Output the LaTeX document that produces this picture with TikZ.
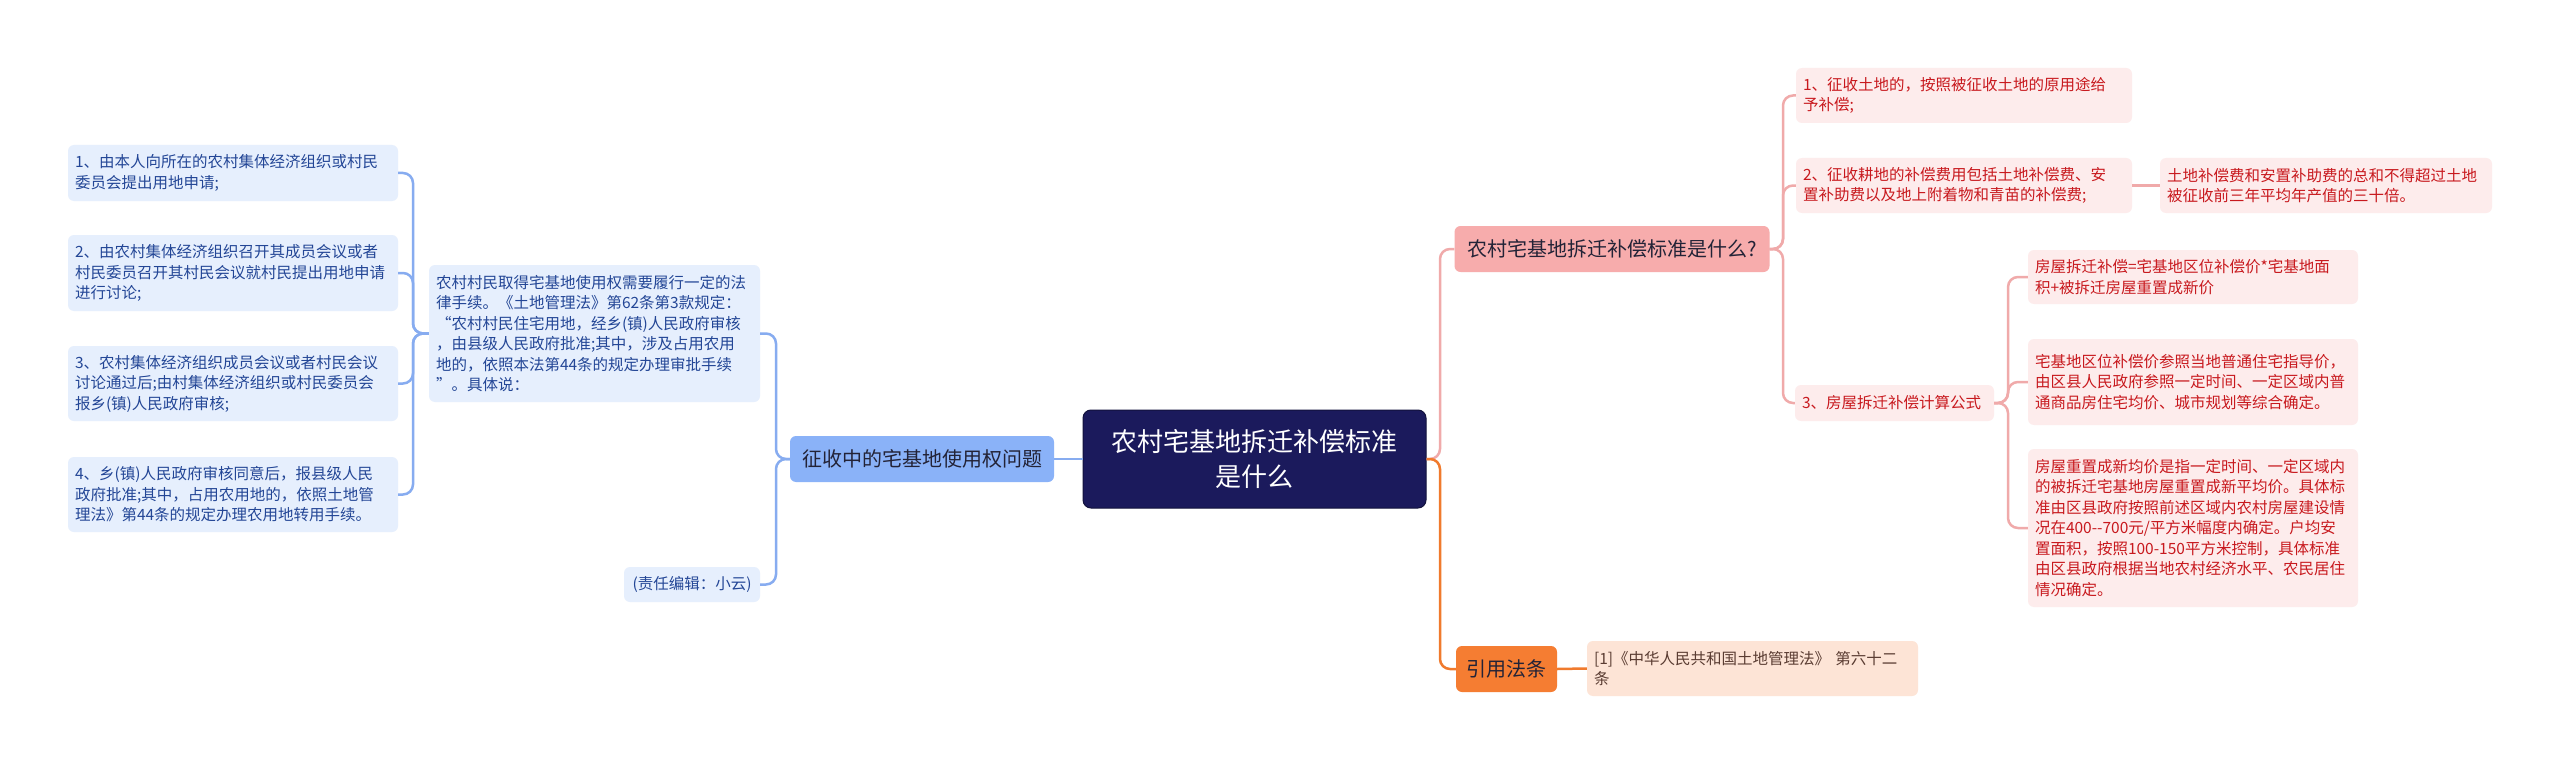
\documentclass[tikz,border=0pt]{standalone}
\usepackage{fontspec}
\setmainfont{Noto Sans CJK SC}
\definecolor{rootfill}{RGB}{27,26,92}
\definecolor{rootdraw}{RGB}{18,18,60}
\definecolor{bline}{RGB}{135,172,240}
\definecolor{bnode}{RGB}{138,178,248}
\definecolor{bleaf}{RGB}{230,239,253}
\definecolor{btext}{RGB}{35,70,150}
\definecolor{darktext}{RGB}{35,35,55}
\definecolor{pline}{RGB}{240,170,170}
\definecolor{pnode}{RGB}{247,172,172}
\definecolor{pleaf}{RGB}{253,236,236}
\definecolor{ptext}{RGB}{200,25,30}
\definecolor{oline}{RGB}{240,122,45}
\definecolor{onode}{RGB}{245,125,50}
\definecolor{oleaf}{RGB}{253,228,214}
\definecolor{otext}{RGB}{90,60,50}
\tikzset{
  sz/.style n args={2}{text width=#1, minimum height=#2},
  small/.style={font=\fontsize{15.5}{20.5}\selectfont},
  leafblue/.style={small, fill=bleaf, text=btext, rounded corners=6pt, inner xsep=7pt, inner ysep=0pt, align=left},
  leafpink/.style={small, fill=pleaf, text=ptext, rounded corners=6pt, inner xsep=7pt, inner ysep=0pt, align=left},
  leaforange/.style={small, fill=oleaf, text=otext, rounded corners=6pt, inner xsep=7pt, inner ysep=0pt, align=left},
  mainnode/.style={font=\fontsize{20}{26}\selectfont, rounded corners=6pt, inner sep=0pt, align=center, text=darktext},
  bluelink/.style={draw=bline, line width=2.5pt, rounded corners=10pt},
  pinklink/.style={draw=pline, line width=2.5pt, rounded corners=10pt},
  orangelink/.style={draw=oline, line width=2.5pt, rounded corners=10pt},
}
\begin{document}
\begin{tikzpicture}[x=1pt,y=-1pt]
\useasboundingbox[fill=white] (0,0) rectangle (2560,765);

% root
\node[font=\fontsize{26}{35}\selectfont, fill=rootfill, draw=rootdraw, line width=1pt, text=white, rounded corners=8pt, inner sep=0pt, align=center, minimum width=343pt, minimum height=98pt] (root) at (1254.5,459) {农村宅基地拆迁补偿标准\\是什么};

% left branch
\node[mainnode, fill=bnode, minimum width=264pt, minimum height=46pt] (blue) at (922,459) {征收中的宅基地使用权问题};
\node[leafblue, sz={317pt}{137pt}] (big) at (594.5,333.5) {农村村民取得宅基地使用权需要履行一定的法\\律手续。《土地管理法》第62条第3款规定：\\“农村村民住宅用地，经乡(镇)人民政府审核\\，由县级人民政府批准;其中，涉及占用农用\\地的，依照本法第44条的规定办理审批手续\\”。具体说：};
\node[leafblue, align=center, sz={122pt}{35pt}] (editor) at (692,584.5) {(责任编辑：小云)};
\node[leafblue, sz={316pt}{56pt}] (l1) at (233,173) {1、由本人向所在的农村集体经济组织或村民\\委员会提出用地申请;};
\node[leafblue, sz={316pt}{76pt}] (l2) at (233,273) {2、由农村集体经济组织召开其成员会议或者\\村民委员召开其村民会议就村民提出用地申请\\进行讨论;};
\node[leafblue, sz={316pt}{75pt}] (l3) at (233,383.5) {3、农村集体经济组织成员会议或者村民会议\\讨论通过后;由村集体经济组织或村民委员会\\报乡(镇)人民政府审核;};
\node[leafblue, sz={316pt}{75pt}] (l4) at (233,494.5) {4、乡(镇)人民政府审核同意后，报县级人民\\政府批准;其中，占用农用地的，依照土地管\\理法》第44条的规定办理农用地转用手续。};

\coordinate (bt) at (776,459);
\coordinate (lt) at (413,333.5);
\draw[bluelink] (root.west) -- (blue.east);
\draw[bluelink] (blue.west) -- (bt) |- (big.east);
\draw[bluelink] (blue.west) -- (bt) |- (editor.east);
\foreach \n in {l1,l2,l3,l4} \draw[bluelink] (big.west) -- (lt) |- (\n.east);

% right branch
\node[mainnode, fill=pnode, minimum width=315pt, minimum height=46pt] (pm) at (1612,249) {农村宅基地拆迁补偿标准是什么?};
\node[leafpink, sz={322pt}{55pt}] (r1) at (1964,95.5) {1、征收土地的，按照被征收土地的原用途给\\予补偿;};
\node[leafpink, sz={322pt}{55pt}] (r2) at (1964,185.5) {2、征收耕地的补偿费用包括土地补偿费、安\\置补助费以及地上附着物和青苗的补偿费;};
\node[leafpink, sz={318pt}{55pt}] (r2c) at (2326,185.5) {土地补偿费和安置补助费的总和不得超过土地\\被征收前三年平均年产值的三十倍。};
\node[leafpink, sz={185pt}{36pt}] (r3) at (1894.5,403) {3、房屋拆迁补偿计算公式};
\node[leafpink, sz={316pt}{54pt}] (c1) at (2193,277) {房屋拆迁补偿=宅基地区位补偿价*宅基地面\\积+被拆迁房屋重置成新价};
\node[leafpink, sz={316pt}{86pt}] (c2) at (2193,382) {宅基地区位补偿价参照当地普通住宅指导价，\\由区县人民政府参照一定时间、一定区域内普\\通商品房住宅均价、城市规划等综合确定。};
\node[leafpink, sz={316pt}{158pt}] (c3) at (2193,528) {房屋重置成新均价是指一定时间、一定区域内\\的被拆迁宅基地房屋重置成新平均价。具体标\\准由区县政府按照前述区域内农村房屋建设情\\况在400-{}-700元/平方米幅度内确定。户均安\\置面积，按照100-150平方米控制，具体标准\\由区县政府根据当地农村经济水平、农民居住\\情况确定。};

\node[mainnode, fill=onode, minimum width=101pt, minimum height=46pt] (or) at (1506.5,669) {引用法条};
\node[leaforange, sz={317pt}{55pt}] (cit) at (1752.5,668.5) {[1]《中华人民共和国土地管理法》 第六十二\\条};

\coordinate (rt) at (1440,459);
\coordinate (pt) at (1783,249);
\coordinate (ct) at (2008,403);
\draw[pinklink] (root.east) -- (rt) |- (pm.west);
\draw[orangelink] (root.east) -- (rt) |- (or.west);
\foreach \n in {r1,r2,r3} \draw[pinklink] (pm.east) -- (pt) |- (\n.west);
\draw[pinklink] (r2.east) -- (r2c.west);
\foreach \n in {c1,c2,c3} \draw[pinklink] (r3.east) -- (ct) |- (\n.west);
\draw[orangelink] (or.east) -- (cit.west);
\end{tikzpicture}
\end{document}
